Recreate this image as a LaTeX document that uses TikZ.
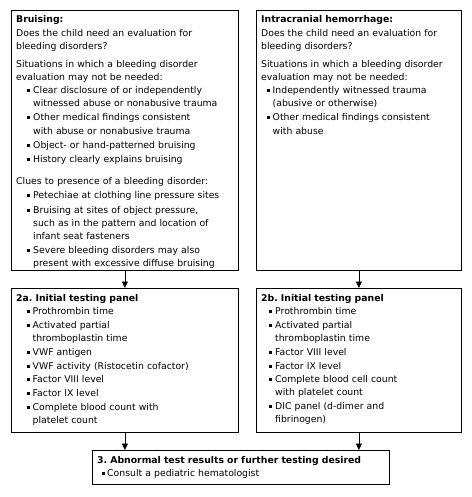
\documentclass[tikz,border=0pt]{standalone}
\usepackage{fontspec}
\setmainfont{DejaVu Sans}
\usetikzlibrary{arrows.meta}
\newlength\bulofs
\newlength\itind
\newcommand\bitem[2][1pt]{\par\vspace{#1}\hangindent=\itind\hangafter=1\noindent\hspace*{\bulofs}\makebox[\dimexpr\itind-\bulofs\relax][l]{\rule[1.4pt]{3pt}{3pt}}#2\par}
\tikzset{
  box/.style={draw, line width=0.8pt, inner sep=0pt, anchor=north west},
  txt/.style={anchor=base west, inner sep=0pt, text width=228pt,
    font=\fontsize{9.3}{13.2}\selectfont},
  arr/.style={-{Triangle[width=6pt,length=6.5pt]}, line width=0.8pt},
}
\begin{document}
\begin{tikzpicture}[x=1pt,y=-1pt]
\useasboundingbox (0,0) rectangle (471,497);
% boxes
\node[box, minimum width=227pt, minimum height=260pt] (b1) at (11,10) {};
\node[box, minimum width=205pt, minimum height=260pt] (b2) at (256,10) {};
\node[box, minimum width=227pt, minimum height=144pt] (a2) at (11,288) {};
\node[box, minimum width=205pt, minimum height=144pt] (c2) at (256,288) {};
\node[box, minimum width=297pt, minimum height=34pt] (b3) at (92,450) {};
% texts
\node[txt] (t1) at (16,23) {\setlength\bulofs{11pt}\setlength\itind{17pt}%
\textbf{Bruising:}\newline
Does the child need an evaluation for\newline
bleeding disorders?\par\vspace{4.5pt}
Situations in which a bleeding disorder\newline
evaluation may not be needed:\par
\bitem[0pt]{Clear disclosure of or independently\newline witnessed abuse or nonabusive trauma}
\bitem{Other medical findings consistent\newline with abuse or nonabusive trauma}
\bitem{Object- or hand-patterned bruising}
\bitem{History clearly explains bruising}
\par\vspace{9pt}
Clues to presence of a bleeding disorder:\par
\bitem{Petechiae at clothing line pressure sites}
\bitem{Bruising at sites of object pressure,\newline such as in the pattern and location of\newline infant seat fasteners}
\bitem{Severe bleeding disorders may also\newline present with excessive diffuse bruising}};
\node[txt] (t2) at (261,23) {\setlength\bulofs{6pt}\setlength\itind{11.5pt}%
\textbf{Intracranial hemorrhage:}\newline
Does the child need an evaluation for\newline
bleeding disorders?\par\vspace{4.5pt}
Situations in which a bleeding disorder\newline
evaluation may not be needed:\par
\bitem[0pt]{Independently witnessed trauma\newline (abusive or otherwise)}
\bitem{Other medical findings consistent\newline with abuse}};
\node[txt] (t3) at (16,301.5) {\setlength\bulofs{11pt}\setlength\itind{16.5pt}%
\textbf{2a.\ Initial testing panel}\par
\bitem[0pt]{Prothrombin time}
\bitem[0.5pt]{Activated partial\newline thromboplastin time}
\bitem[0.5pt]{VWF antigen}
\bitem[0.5pt]{VWF activity (Ristocetin cofactor)}
\bitem[0.5pt]{Factor VIII level}
\bitem[0.5pt]{Factor IX level}
\bitem[0.5pt]{Complete blood count with\newline platelet count}};
\node[txt] (t4) at (261,301.5) {\setlength\bulofs{8pt}\setlength\itind{14pt}%
\textbf{2b.\ Initial testing panel}\par
\bitem[0pt]{Prothrombin time}
\bitem[0.5pt]{Activated partial\newline thromboplastin time}
\bitem[0.5pt]{Factor VIII level}
\bitem[0.5pt]{Factor IX level}
\bitem[0.5pt]{Complete blood cell count\newline with platelet count}
\bitem[0.5pt]{DIC panel (d-dimer and\newline fibrinogen)}};
\node[txt, text width=290pt] (t5) at (97,463.5) {\setlength\bulofs{5pt}\setlength\itind{10pt}%
\textbf{3.\ Abnormal test results or further testing desired}\par
\bitem[0pt]{Consult a pediatric hematologist}};
% connectors
\draw[arr] (b1.south) -- (a2.north);
\draw[arr] (b2.south) -- (c2.north);
\draw[arr] (a2.south) -- (a2.south |- b3.north);
\draw[arr] (c2.south) -- (c2.south |- b3.north);
\end{tikzpicture}
\end{document}
